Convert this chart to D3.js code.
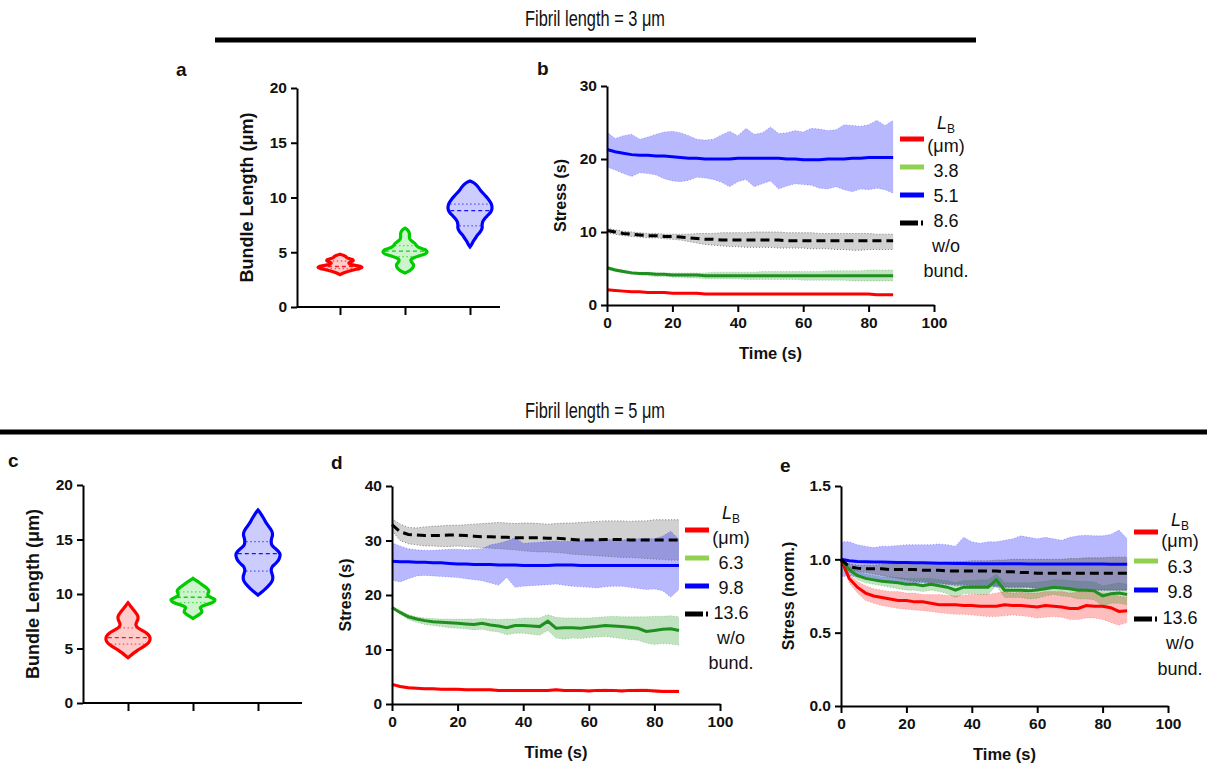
<!DOCTYPE html>
<html>
<head>
<meta charset="utf-8">
<script src="https://cdn.jsdelivr.net/npm/d3@7/dist/d3.min.js"></script>
<style>
  body { margin: 0; background: #fff; }
  svg text { font-family: "Liberation Sans", Arial, sans-serif; fill: #111; }
</style>
</head>
<body>
<div id="fig"></div>
<script>
var figw = 1207
var figh = 767

// ---- violin data (bundle lengths, um) ----
var bundleA = ["3.8", "5.1", "8.6"]     // fibril 3 um
var bundleC = ["6.3", "9.8", "13.6"]    // fibril 5 um
var lenTicks = [0, 5, 10, 15, 20]

// density profiles: [value, relative width]
var violinA = [
  [[2.95,0],[3.1,0.15],[3.25,0.35],[3.4,0.65],[3.52,0.9],[3.62,1.0],[3.72,0.92],[3.82,0.65],[3.92,0.45],
   [4.02,0.4],[4.12,0.5],[4.22,0.6],[4.32,0.58],[4.42,0.42],[4.52,0.3],[4.62,0.25],[4.72,0.15],[4.82,0]],
  [[3.1,0],[3.25,0.15],[3.45,0.3],[3.7,0.38],[3.9,0.38],[4.1,0.3],[4.3,0.27],[4.5,0.4],[4.7,0.7],[4.85,0.92],
   [5.0,1.0],[5.15,0.97],[5.3,0.82],[5.45,0.62],[5.6,0.52],[5.8,0.45],[6.0,0.32],[6.2,0.22],[6.45,0.2],
   [6.7,0.2],[6.95,0.15],[7.1,0.08],[7.2,0]],
  [[5.5,0],[5.7,0.07],[6.0,0.15],[6.3,0.25],[6.6,0.35],[6.9,0.48],[7.2,0.55],[7.5,0.55],[7.8,0.58],[8.1,0.68],
   [8.4,0.82],[8.7,0.95],[9.0,1.0],[9.4,0.97],[9.8,0.85],[10.2,0.68],[10.6,0.5],[11.0,0.35],[11.3,0.2],[11.5,0]]
]
var quartA = [[3.5, 3.7, 4.2], [4.6, 5.1, 5.6], [7.4, 8.8, 9.4]]

var violinC = [
  [[4.15,0],[4.35,0.12],[4.6,0.27],[4.9,0.48],[5.2,0.72],[5.5,0.92],[5.8,1.0],[6.1,0.98],[6.4,0.85],[6.7,0.6],
   [6.95,0.42],[7.2,0.36],[7.45,0.4],[7.7,0.45],[7.95,0.45],[8.2,0.38],[8.5,0.27],[8.8,0.15],[9.05,0.06],[9.2,0]],
  [[7.75,0],[7.95,0.15],[8.15,0.3],[8.35,0.4],[8.55,0.38],[8.75,0.33],[8.95,0.5],[9.15,0.8],[9.35,0.97],[9.5,1.0],
   [9.65,0.85],[9.85,0.68],[10.05,0.68],[10.3,0.72],[10.55,0.62],[10.8,0.45],[11.05,0.28],[11.3,0.1],[11.45,0]],
  [[9.9,0],[10.1,0.12],[10.4,0.3],[10.7,0.45],[11.0,0.58],[11.3,0.66],[11.6,0.67],[11.9,0.63],[12.2,0.6],
   [12.5,0.65],[12.8,0.8],[13.1,0.93],[13.4,0.99],[13.65,1.0],[13.9,0.93],[14.2,0.77],[14.5,0.63],[14.8,0.6],
   [15.1,0.62],[15.4,0.66],[15.7,0.64],[16.0,0.56],[16.3,0.45],[16.6,0.35],[16.9,0.27],[17.2,0.18],[17.5,0.08],[17.7,0]]
]
var quartC = [[5.4, 6.0, 6.9], [9.2, 9.7, 10.2], [12.1, 13.7, 14.8]]

// ---- stress time courses ----
var time = [0,2.5,5,7.5,10,12.5,15,17.5,20,22.5,25,27.5,30,32.5,35,37.5,40,42.5,
            45,47.5,50,52.5,55,57.5,60,62.5,65,67.5,70,72.5,75,77.5,80,82.5,85,87.5]
var timeTicks = [0, 20, 40, 60, 80, 100]

// panel b (fibril 3 um, stress in s)
var bRedMean = [2.1,2.0,1.9,1.8,1.8,1.7,1.7,1.7,1.6,1.6,1.6,1.6,
  1.5,1.5,1.5,1.5,1.5,1.5,1.5,1.5,1.5,1.5,1.5,1.5,
  1.5,1.5,1.5,1.5,1.5,1.5,1.5,1.5,1.5,1.4,1.4,1.4]
var bRedHi = [2.2,2.1,2.0,1.9,1.9,1.8,1.8,1.8,1.7,1.7,1.7,1.7,
  1.6,1.6,1.6,1.6,1.6,1.6,1.6,1.6,1.6,1.6,1.6,1.6,
  1.6,1.6,1.6,1.6,1.6,1.6,1.6,1.6,1.6,1.5,1.5,1.5]
var bRedLo = [2.0,1.9,1.8,1.7,1.7,1.6,1.6,1.6,1.5,1.5,1.5,1.5,
  1.4,1.4,1.4,1.4,1.4,1.4,1.4,1.4,1.4,1.4,1.4,1.4,
  1.4,1.4,1.4,1.4,1.4,1.4,1.4,1.4,1.4,1.3,1.3,1.3]
var bGreenMean = [5.1,4.8,4.6,4.4,4.3,4.3,4.2,4.2,4.1,4.1,4.1,4.1,
  4.0,4.0,4.0,4.0,4.0,4.0,4.0,4.0,4.0,4.0,4.0,4.0,
  4.0,4.0,4.0,4.0,4.0,4.0,4.0,4.0,4.0,4.0,4.0,4.0]
var bGreenHi = [5.3,5.0,4.8,4.6,4.5,4.5,4.4,4.4,4.4,4.4,4.4,4.4,
  4.4,4.5,4.5,4.5,4.5,4.5,4.5,4.6,4.6,4.6,4.6,4.6,
  4.6,4.6,4.6,4.7,4.7,4.7,4.7,4.7,4.8,4.8,4.8,4.8]
var bGreenLo = [4.9,4.6,4.4,4.2,4.1,4.0,3.9,3.9,3.8,3.8,3.7,3.7,
  3.6,3.6,3.6,3.6,3.6,3.5,3.5,3.5,3.5,3.5,3.5,3.5,
  3.4,3.4,3.4,3.4,3.4,3.4,3.3,3.3,3.3,3.3,3.3,3.3]
var bBlueMean = [21.3,21.0,20.8,20.6,20.5,20.5,20.4,20.4,20.3,20.2,20.1,20.1,
  20.0,20.0,20.0,20.0,20.1,20.1,20.1,20.1,20.1,20.1,20.0,20.0,
  19.9,19.9,19.9,20.0,20.0,20.0,20.1,20.1,20.2,20.2,20.2,20.2]
var bBlueHi = [23.7,22.8,23.2,23.4,22.7,23.0,23.4,23.7,23.8,23.6,23.2,22.7,
  22.6,22.7,23.3,23.8,23.2,24.2,23.4,23.6,24.4,23.5,23.6,23.9,
  23.7,24.2,24.1,23.9,24.0,24.7,24.6,24.5,24.7,25.3,24.6,25.3]
var bBlueLo = [18.9,18.5,18.0,17.6,18.1,18.0,17.8,17.3,17.0,16.9,17.1,17.5,
  17.4,17.2,16.8,16.2,16.9,17.2,16.2,16.6,17.0,15.9,16.3,16.6,
  16.5,16.4,16.0,15.9,16.2,15.8,15.5,15.9,15.8,16.0,15.8,15.3]
var bBlackMean = [10.2,10.0,9.8,9.7,9.6,9.5,9.5,9.4,9.4,9.3,9.2,9.1,
  9.0,9.0,8.9,8.9,8.9,8.9,8.9,8.9,8.9,8.9,8.8,8.8,
  8.8,8.8,8.8,8.8,8.8,8.8,8.8,8.8,8.8,8.8,8.8,8.8]
var bBlackHi = [10.5,10.3,10.1,10.0,9.9,9.8,9.8,9.7,9.7,9.7,9.7,9.8,
  9.8,9.8,9.9,9.9,9.9,9.9,10.0,10.0,10.0,10.0,9.9,9.9,
  9.9,9.9,9.8,9.8,9.8,9.8,9.8,9.8,9.8,9.7,9.7,9.7]
var bBlackLo = [9.9,9.7,9.5,9.4,9.3,9.2,9.2,9.1,9.0,8.9,8.7,8.5,
  8.3,8.2,8.1,8.0,8.0,7.9,7.9,7.9,7.9,7.8,7.8,7.8,
  7.8,7.7,7.7,7.7,7.6,7.6,7.5,7.5,7.6,7.6,7.6,7.6]

// panel d (fibril 5 um, stress in s)
var dRedMean = [3.6,3.2,3.0,2.9,2.8,2.8,2.7,2.7,2.7,2.6,2.6,2.6,
  2.6,2.5,2.5,2.5,2.5,2.5,2.5,2.5,2.6,2.5,2.5,2.5,
  2.4,2.5,2.5,2.5,2.4,2.5,2.5,2.5,2.4,2.3,2.3,2.3]
var dRedHi = [3.8,3.4,3.2,3.1,3.0,3.0,2.9,2.9,2.9,2.8,2.8,2.8,
  2.8,2.7,2.7,2.7,2.7,2.7,2.7,2.7,2.8,2.7,2.7,2.7,
  2.7,2.7,2.8,2.7,2.7,2.7,2.8,2.8,2.7,2.6,2.6,2.6]
var dRedLo = [3.4,3.0,2.8,2.7,2.6,2.6,2.5,2.5,2.5,2.4,2.4,2.4,
  2.4,2.3,2.3,2.3,2.3,2.3,2.3,2.3,2.4,2.3,2.3,2.2,
  2.2,2.3,2.3,2.3,2.2,2.3,2.3,2.3,2.2,2.1,2.1,2.1]
var dGreenMean = [17.7,16.8,16.0,15.6,15.3,15.1,15.0,14.9,14.8,14.7,14.6,14.8,
  14.5,14.3,14.0,14.4,14.4,14.3,14.2,15.2,13.9,14.0,14.0,13.9,
  14.1,14.2,14.4,14.3,14.2,14.1,13.9,13.3,13.5,13.7,13.8,13.5]
var dGreenHi = [17.9,17.1,16.4,16.0,15.8,15.7,15.6,15.6,15.6,15.6,15.6,15.7,
  15.6,15.5,15.6,15.6,15.8,15.8,15.8,16.4,15.9,15.8,15.8,15.8,
  15.8,15.9,16.0,16.1,16.0,16.0,16.0,16.0,16.1,16.1,16.2,16.0]
var dGreenLo = [17.5,16.4,15.5,15.0,14.6,14.4,14.2,14.0,13.9,13.8,13.6,13.7,
  13.4,13.2,12.7,13.0,13.0,12.8,12.6,13.5,12.1,11.9,12.1,12.0,
  12.2,12.3,12.4,12.2,12.0,11.8,11.7,11.2,10.9,11.1,11.0,10.8]
var dBlueMean = [26.2,26.1,26.1,26.0,26.0,25.9,25.9,25.8,25.7,25.7,25.6,25.6,
  25.6,25.5,25.5,25.5,25.4,25.4,25.4,25.4,25.5,25.5,25.5,25.4,
  25.4,25.4,25.4,25.4,25.4,25.4,25.4,25.4,25.4,25.4,25.4,25.4]
var dBlueHi = [29.6,29.0,28.5,28.3,28.2,28.2,28.3,28.4,28.4,28.3,28.4,28.5,
  29.2,29.5,29.9,30.5,29.5,29.6,29.7,29.8,29.9,29.8,29.9,30.0,
  30.1,30.0,30.2,30.2,30.1,30.2,30.3,30.4,30.3,30.8,31.7,30.2]
var dBlueLo = [22.7,22.4,23.0,23.5,23.6,23.5,23.4,23.3,23.2,23.0,22.8,22.6,
  22.2,21.8,23.2,21.4,21.6,21.7,21.8,21.9,22.0,21.8,21.6,21.5,
  21.4,21.3,21.5,21.6,21.6,21.4,21.2,21.0,21.1,20.8,19.6,21.0]
var dBlackMean = [32.9,31.6,31.1,31.0,30.9,30.9,30.9,31.0,31.0,30.9,30.8,30.7,
  30.7,30.6,30.6,30.5,30.5,30.5,30.5,30.4,30.4,30.3,30.2,30.1,
  30.1,30.1,30.2,30.2,30.2,30.1,30.1,30.1,30.1,30.1,30.1,30.1]
var dBlackHi = [34.0,33.0,32.4,32.3,32.5,32.6,32.7,32.8,32.8,32.9,33.0,33.1,
  33.2,33.3,33.2,33.1,33.2,33.2,33.1,33.0,33.1,33.2,33.2,33.3,
  33.4,33.5,33.6,33.6,33.6,33.5,33.6,33.6,33.8,33.8,33.8,33.8]
var dBlackLo = [31.8,30.0,29.4,29.2,29.0,29.0,28.9,28.9,29.0,28.9,28.8,28.7,
  28.6,28.5,28.4,28.3,28.1,28.0,27.9,27.9,27.8,27.7,27.5,27.4,
  27.3,27.2,27.1,27.0,26.9,26.9,26.8,26.7,26.6,26.5,26.4,26.4]

// panel e (fibril 5 um, normalised stress)
var eRedMean = [1.0,0.87,0.81,0.77,0.75,0.74,0.73,0.72,0.72,0.71,0.71,0.70,
  0.69,0.69,0.69,0.685,0.685,0.68,0.68,0.68,0.69,0.685,0.685,0.68,
  0.675,0.685,0.68,0.675,0.665,0.665,0.685,0.68,0.68,0.67,0.645,0.65]
var eRedHi = [1.0,0.90,0.85,0.82,0.80,0.79,0.78,0.78,0.77,0.77,0.76,0.76,
  0.76,0.755,0.75,0.755,0.76,0.76,0.76,0.77,0.78,0.77,0.775,0.77,
  0.77,0.78,0.78,0.78,0.77,0.775,0.78,0.78,0.77,0.765,0.75,0.74]
var eRedLo = [1.0,0.84,0.77,0.72,0.70,0.685,0.675,0.665,0.66,0.655,0.65,0.645,
  0.635,0.63,0.625,0.625,0.62,0.615,0.61,0.61,0.615,0.62,0.615,0.61,
  0.60,0.605,0.61,0.605,0.59,0.59,0.60,0.60,0.59,0.57,0.55,0.57]
var eGreenMean = [1.0,0.93,0.89,0.87,0.86,0.85,0.845,0.84,0.83,0.83,0.82,0.83,
  0.82,0.81,0.79,0.81,0.81,0.81,0.81,0.86,0.79,0.79,0.79,0.785,
  0.79,0.80,0.81,0.805,0.80,0.79,0.79,0.785,0.75,0.765,0.77,0.76]
var eGreenHi = [1.0,0.95,0.92,0.90,0.89,0.88,0.88,0.875,0.87,0.87,0.87,0.87,
  0.86,0.855,0.84,0.855,0.855,0.86,0.86,0.90,0.84,0.84,0.84,0.84,
  0.845,0.85,0.86,0.86,0.855,0.85,0.85,0.845,0.82,0.83,0.84,0.83]
var eGreenLo = [1.0,0.91,0.86,0.84,0.83,0.82,0.81,0.80,0.79,0.79,0.78,0.79,
  0.78,0.765,0.74,0.765,0.765,0.76,0.76,0.82,0.74,0.74,0.74,0.73,
  0.735,0.75,0.76,0.75,0.745,0.73,0.73,0.725,0.68,0.70,0.70,0.69]
var eBlueMean = [1.0,0.99,0.985,0.983,0.982,0.981,0.98,0.979,0.978,0.977,0.976,0.975,
  0.974,0.973,0.972,0.971,0.97,0.97,0.97,0.97,0.97,0.97,0.97,0.969,
  0.968,0.968,0.968,0.968,0.968,0.968,0.968,0.968,0.968,0.967,0.967,0.966]
var eBlueHi = [1.12,1.12,1.10,1.09,1.08,1.09,1.09,1.095,1.10,1.10,1.10,1.10,
  1.105,1.10,1.09,1.15,1.12,1.11,1.12,1.12,1.13,1.14,1.16,1.15,
  1.14,1.15,1.14,1.13,1.15,1.16,1.165,1.16,1.16,1.17,1.20,1.14]
var eBlueLo = [0.88,0.89,0.88,0.87,0.86,0.86,0.85,0.85,0.84,0.84,0.84,0.83,
  0.83,0.83,0.82,0.82,0.82,0.82,0.82,0.81,0.81,0.81,0.81,0.81,
  0.80,0.80,0.80,0.80,0.80,0.80,0.79,0.79,0.79,0.79,0.79,0.79]
var eBlackMean = [1.0,0.95,0.94,0.935,0.935,0.935,0.93,0.93,0.93,0.93,0.925,0.925,
  0.925,0.92,0.92,0.92,0.92,0.92,0.92,0.92,0.915,0.915,0.91,0.91,
  0.905,0.905,0.905,0.905,0.905,0.905,0.905,0.905,0.905,0.905,0.905,0.905]
var eBlackHi = [1.0,0.97,0.96,0.96,0.96,0.965,0.97,0.97,0.975,0.975,0.975,0.98,
  0.98,0.98,0.985,0.985,0.99,0.99,0.99,0.995,0.995,1.0,1.0,1.0,
  1.0,1.0,1.0,1.0,1.005,1.005,1.01,1.01,1.01,1.015,1.015,1.015]
var eBlackLo = [1.0,0.93,0.92,0.91,0.90,0.89,0.88,0.87,0.86,0.85,0.85,0.84,
  0.84,0.83,0.83,0.83,0.82,0.82,0.82,0.82,0.81,0.81,0.81,0.81,
  0.80,0.80,0.80,0.80,0.80,0.80,0.80,0.79,0.79,0.79,0.79,0.79]

// colours
var cRed = "#ff0000", cGreen = "#1f8f1f", cGreenLeg = "#92d050", cBlue = "#0000ff"
var violinCols = ["#ff0000", "#00cc00", "#0000ff"]

var svg = d3.select("#fig")
  .append("svg")
    .attr("width", figw)
    .attr("height", figh)

// section headings
function heading(txt, y, x1, x2, ly) {
  svg.append("text")
    .attr("x", 595).attr("y", y)
    .attr("text-anchor", "middle")
    .attr("font-size", 22)
    .attr("textLength", 140).attr("lengthAdjust", "spacingAndGlyphs")
    .text(txt)
  svg.append("line")
    .attr("x1", x1).attr("x2", x2).attr("y1", ly).attr("y2", ly)
    .attr("stroke", "#000").attr("stroke-width", 5)
}
heading("Fibril length = 3 μm", 26, 215, 976, 40)
heading("Fibril length = 5 μm", 418, 0, 1207, 432)

function letter(s, x, y) {
  svg.append("text").attr("x", x).attr("y", y)
    .attr("font-size", 19).attr("font-weight", "bold").text(s)
}
letter("a", 176, 76)
letter("b", 537, 75)
letter("c", 8, 467)
letter("d", 331, 469)
letter("e", 780, 472)

function styleAxis(ax) {
  ax.attr("font-family", "Liberation Sans, Arial, sans-serif")
    .attr("font-size", 15.5).attr("font-weight", "bold")
  ax.select(".domain").attr("stroke-width", 2)
  ax.selectAll(".tick line").attr("stroke-width", 2)
  ax.selectAll(".tick text").attr("fill", "#111")
}

function yTitle(g, txt, x, y, fs) {
  g.append("text")
    .attr("transform", "translate(" + x + "," + y + ") rotate(-90)")
    .attr("text-anchor", "middle").attr("dy", "0.35em")
    .attr("font-size", fs).attr("font-weight", "bold")
    .text(txt)
}

// width of a violin profile at value v
function widthAt(prof, v) {
  for (var i = 1; i < prof.length; i++) {
    if (v <= prof[i][0]) {
      var a = prof[i-1], b = prof[i]
      return a[1] + (b[1] - a[1]) * (v - a[0]) / (b[0] - a[0])
    }
  }
  return 0
}

function violinPanel(box, cats, shapes, quarts) {
  var g = svg.append("g")
    .attr("transform", "translate(" + box.left + "," + box.top + ")")
  var y = d3.scaleLinear().domain([0, 20]).range([box.height, 0])
  var x = d3.scalePoint().domain(cats).range([box.first, box.last])
  var w = d3.scaleLinear().domain([0, 1]).range([0, 22])

  cats.forEach(function(c, i) {
    var area = d3.area()
      .curve(d3.curveCatmullRom)
      .y(function(d) { return y(d[0]) })
      .x0(function(d) { return x(c) - w(d[1]) })
      .x1(function(d) { return x(c) + w(d[1]) })
    g.append("path").datum(shapes[i])
      .attr("d", area)
      .attr("fill", violinCols[i]).attr("fill-opacity", 0.2)
    quarts[i].forEach(function(v, k) {
      var hw = w(widthAt(shapes[i], v)) - 1.5
      g.append("line")
        .attr("x1", x(c) - hw).attr("x2", x(c) + hw)
        .attr("y1", y(v)).attr("y2", y(v))
        .attr("stroke", violinCols[i]).attr("stroke-width", 1.3)
        .attr("stroke-opacity", k == 1 ? 0.9 : 0.6)
        .attr("stroke-dasharray", k == 1 ? "4,3" : "1.5,2.5")
    })
    g.append("path").datum(shapes[i])
      .attr("d", area)
      .attr("fill", "none")
      .attr("stroke", violinCols[i]).attr("stroke-width", 3.2)
  })

  var ya = g.append("g")
    .call(d3.axisLeft(y).tickValues(lenTicks).tickSize(6).tickPadding(4).tickSizeOuter(0))
  styleAxis(ya)
  g.append("line")
    .attr("x1", 0).attr("x2", box.width)
    .attr("y1", box.height).attr("y2", box.height)
    .attr("stroke", "#000").attr("stroke-width", 2)
  var xa = g.append("g")
    .attr("transform", "translate(0," + box.height + ")")
    .call(d3.axisBottom(x).tickFormat("").tickSize(8).tickSizeOuter(0))
  xa.select(".domain").remove()
  xa.selectAll(".tick line").attr("stroke-width", 2)
  yTitle(g, "Bundle Length (μm)", -50, box.height / 2, 18)
}

violinPanel({left: 297, top: 88, width: 203, height: 219, first: 43, last: 173},
  bundleA, violinA, quartA)
violinPanel({left: 83, top: 485, width: 219, height: 218, first: 45, last: 175},
  bundleC, violinC, quartC)

function makeSeries(mean, lo, hi, color, bandFill, edge, dash) {
  return {
    pts: time.map(function(t, i) { return [t, mean[i], lo[i], hi[i]] }),
    color: color, fill: bandFill, edge: edge, dash: dash
  }
}

function timePanel(box, ymax, yTicks, ytxt, series, vals, lay) {
  var g = svg.append("g")
    .attr("transform", "translate(" + box.left + "," + box.top + ")")
  var x = d3.scaleLinear().domain([0, 100]).range([0, box.width])
  var y = d3.scaleLinear().domain([0, ymax]).range([box.height, 0])

  var band = d3.area()
    .x(function(d) { return x(d[0]) })
    .y0(function(d) { return y(d[2]) })
    .y1(function(d) { return y(d[3]) })
  series.forEach(function(s) {
    g.append("path").datum(s.pts).attr("d", band).attr("fill", s.fill)
  })
  series.forEach(function(s) {
    [2, 3].forEach(function(k) {
      g.append("path").datum(s.pts)
        .attr("d", d3.line().x(function(d) { return x(d[0]) }).y(function(d) { return y(d[k]) }))
        .attr("fill", "none").attr("stroke", s.edge)
        .attr("stroke-width", 1).attr("stroke-dasharray", "1,2")
    })
  })
  series.forEach(function(s) {
    g.append("path").datum(s.pts)
      .attr("d", d3.line().x(function(d) { return x(d[0]) }).y(function(d) { return y(d[1]) }))
      .attr("fill", "none").attr("stroke", s.color)
      .attr("stroke-width", 3)
      .attr("stroke-dasharray", s.dash ? "9,5" : null)
  })

  var ya = g.append("g")
    .call(d3.axisLeft(y).tickValues(yTicks).tickSize(6).tickPadding(4).tickSizeOuter(0)
      .tickFormat(ymax < 5 ? d3.format(".1f") : d3.format("d")))
  styleAxis(ya)
  var xa = g.append("g")
    .attr("transform", "translate(0," + box.height + ")")
    .call(d3.axisBottom(x).tickValues(timeTicks).tickSize(7).tickPadding(5).tickSizeOuter(0))
  styleAxis(xa)
  yTitle(g, ytxt, lay.ytx, box.height / 2, 16)
  g.append("text")
    .attr("x", box.width / 2).attr("y", box.height + 48).attr("dy", "0.35em")
    .attr("text-anchor", "middle")
    .attr("font-size", 16.5).attr("font-weight", "bold")
    .text("Time (s)")

  // legend
  var legCols = [cRed, cGreenLeg, cBlue, "#000"]
  legCols.forEach(function(c, i) {
    g.append("line")
      .attr("x1", 293).attr("x2", 317)
      .attr("y1", lay.line0 + i * lay.lineStep).attr("y2", lay.line0 + i * lay.lineStep)
      .attr("stroke", c).attr("stroke-width", 5)
      .attr("stroke-dasharray", i == 3 ? "18,3,2,10" : null)
  })
  var head = g.append("text")
    .attr("x", 339).attr("y", lay.head).attr("dy", "0.35em")
    .attr("text-anchor", "middle").attr("font-size", 18)
  head.append("tspan").attr("font-style", "italic").text("L")
  head.append("tspan").attr("font-size", 12).attr("dy", "0.3em").text("B")
  var rows = ["(μm)"].concat(vals).concat(["w/o", "bund."])
  rows.forEach(function(r, i) {
    g.append("text")
      .attr("x", 339).attr("y", lay.row0 + i * lay.rowStep).attr("dy", "0.35em")
      .attr("text-anchor", "middle").attr("font-size", 18)
      .text(r)
  })
}

var fillRed = "rgba(255,0,0,0.26)", fillGreen = "rgba(0,140,0,0.24)"
var fillBlue = "rgba(0,0,255,0.28)", fillGray = "rgba(120,120,120,0.34)"

timePanel({left: 607, top: 86, width: 327, height: 219}, 30, [0, 10, 20, 30], "Stress (s)", [
    makeSeries(bBlueMean, bBlueLo, bBlueHi, cBlue, fillBlue, "rgba(0,0,255,0.3)", false),
    makeSeries(bBlackMean, bBlackLo, bBlackHi, "#000", fillGray, "#777", true),
    makeSeries(bGreenMean, bGreenLo, bGreenHi, cGreen, fillGreen, "rgba(0,140,0,0.35)", false),
    makeSeries(bRedMean, bRedLo, bRedHi, cRed, fillRed, "rgba(255,0,0,0.3)", false)
  ], bundleA, {ytx: -47, head: 37, row0: 60, rowStep: 25, line0: 53, lineStep: 28})

timePanel({left: 392, top: 486, width: 328, height: 218}, 40, [0, 10, 20, 30, 40], "Stress (s)", [
    makeSeries(dBlackMean, dBlackLo, dBlackHi, "#000", fillGray, "#777", true),
    makeSeries(dBlueMean, dBlueLo, dBlueHi, cBlue, fillBlue, "rgba(0,0,255,0.3)", false),
    makeSeries(dGreenMean, dGreenLo, dGreenHi, cGreen, fillGreen, "rgba(0,140,0,0.35)", false),
    makeSeries(dRedMean, dRedLo, dRedHi, cRed, fillRed, "rgba(255,0,0,0.3)", false)
  ], bundleC, {ytx: -47, head: 27, row0: 52, rowStep: 25, line0: 44, lineStep: 28})

timePanel({left: 841, top: 486, width: 327, height: 220}, 1.5, [0, 0.5, 1.0, 1.5], "Stress (norm.)", [
    makeSeries(eRedMean, eRedLo, eRedHi, cRed, fillRed, "rgba(255,0,0,0.3)", false),
    makeSeries(eGreenMean, eGreenLo, eGreenHi, cGreen, fillGreen, "rgba(0,140,0,0.35)", false),
    makeSeries(eBlueMean, eBlueLo, eBlueHi, cBlue, fillBlue, "rgba(0,0,255,0.3)", false),
    makeSeries(eBlackMean, eBlackLo, eBlackHi, "#000", "rgba(90,90,90,0.42)", "#666", true)
  ], bundleC, {ytx: -53, head: 34, row0: 55, rowStep: 25.5, line0: 46, lineStep: 29})
</script>
</body>
</html>
